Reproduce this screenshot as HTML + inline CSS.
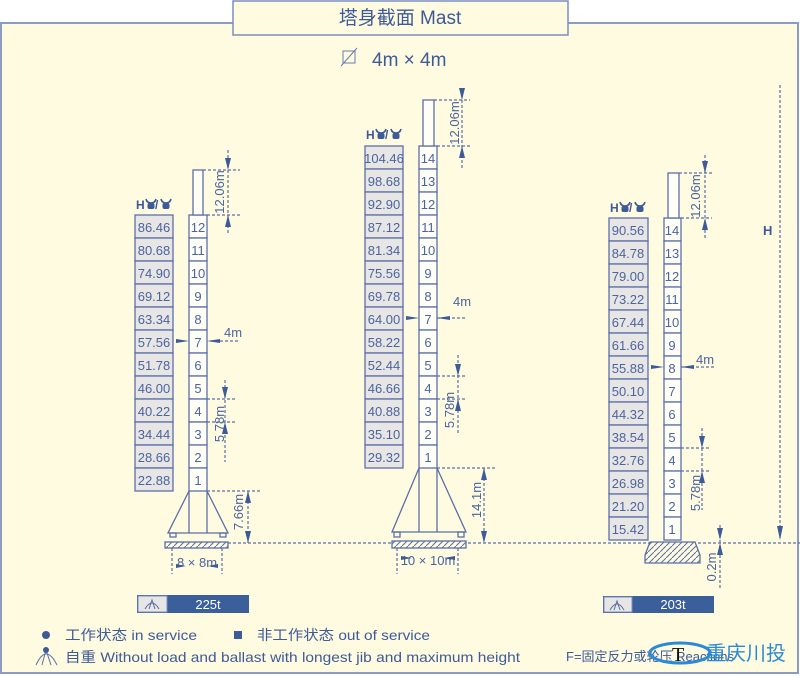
<!DOCTYPE html>
<html><head><meta charset="utf-8"><style>
html,body{margin:0;padding:0;background:#fff;}
svg{display:block;font-family:"Liberation Sans","Noto Sans CJK SC",sans-serif;}
</style></head><body>
<svg width="800" height="676" viewBox="0 0 800 676" xmlns="http://www.w3.org/2000/svg">
<defs>
<pattern id="hat" width="6" height="6" patternUnits="userSpaceOnUse"><rect width="6" height="6" fill="#fffbe0"/><path d="M0,6 L6,0" stroke="#5a6fa8" stroke-width="1"/></pattern>
<g id="bull"><path d="M-5,-5 Q-4,-1 0,-1 Q4,-1 5,-5" stroke="#3d5a99" stroke-width="1.6" fill="none"/><rect x="-3.5" y="-1" width="7" height="6" rx="2" fill="#3d5a99"/></g>
</defs>
<rect x="1" y="23" width="797" height="650" fill="#fffbe0" stroke="#8a9cc4" stroke-width="2"/>
<rect x="233" y="1" width="335" height="34" fill="#fffbe0" stroke="#7a8fc0" stroke-width="1.5"/>
<text x="400" y="24" font-size="19" fill="#3d5a99" text-anchor="middle">塔身截面 Mast</text>
<rect x="343" y="51" width="12" height="12" fill="none" stroke="#6a7cb0"/>
<path d="M341 66 L357 48" stroke="#6a7cb0"/>
<text x="372" y="66" font-size="19" fill="#3d5a99">4m × 4m</text>

<g stroke="#5a6fa8" stroke-width="1.3" font-size="13" fill="#4a64a0">
<g fill="#e8e6e4">
<rect x="135" y="215" width="38" height="23"/><rect x="135" y="238" width="38" height="23"/><rect x="135" y="261" width="38" height="23"/><rect x="135" y="284" width="38" height="23"/><rect x="135" y="307" width="38" height="23"/><rect x="135" y="330" width="38" height="23"/><rect x="135" y="353" width="38" height="23"/><rect x="135" y="376" width="38" height="23"/><rect x="135" y="399" width="38" height="23"/><rect x="135" y="422" width="38" height="23"/><rect x="135" y="445" width="38" height="23"/><rect x="135" y="468" width="38" height="23"/>
</g>
<g fill="#fffef6">
<rect x="189" y="215" width="18" height="23"/><rect x="189" y="238" width="18" height="23"/><rect x="189" y="261" width="18" height="23"/><rect x="189" y="284" width="18" height="23"/><rect x="189" y="307" width="18" height="23"/><rect x="189" y="330" width="18" height="23"/><rect x="189" y="353" width="18" height="23"/><rect x="189" y="376" width="18" height="23"/><rect x="189" y="399" width="18" height="23"/><rect x="189" y="422" width="18" height="23"/><rect x="189" y="445" width="18" height="23"/><rect x="189" y="468" width="18" height="23"/>
<rect x="193" y="170" width="10" height="45"/>
</g>
<g fill="#e8e6e4">
<rect x="365" y="146" width="38" height="23"/><rect x="365" y="169" width="38" height="23"/><rect x="365" y="192" width="38" height="23"/><rect x="365" y="215" width="38" height="23"/><rect x="365" y="238" width="38" height="23"/><rect x="365" y="261" width="38" height="23"/><rect x="365" y="284" width="38" height="23"/><rect x="365" y="307" width="38" height="23"/><rect x="365" y="330" width="38" height="23"/><rect x="365" y="353" width="38" height="23"/><rect x="365" y="376" width="38" height="23"/><rect x="365" y="399" width="38" height="23"/><rect x="365" y="422" width="38" height="23"/><rect x="365" y="445" width="38" height="23"/>
</g>
<g fill="#fffef6">
<rect x="419" y="146" width="18" height="23"/><rect x="419" y="169" width="18" height="23"/><rect x="419" y="192" width="18" height="23"/><rect x="419" y="215" width="18" height="23"/><rect x="419" y="238" width="18" height="23"/><rect x="419" y="261" width="18" height="23"/><rect x="419" y="284" width="18" height="23"/><rect x="419" y="307" width="18" height="23"/><rect x="419" y="330" width="18" height="23"/><rect x="419" y="353" width="18" height="23"/><rect x="419" y="376" width="18" height="23"/><rect x="419" y="399" width="18" height="23"/><rect x="419" y="422" width="18" height="23"/><rect x="419" y="445" width="18" height="23"/>
<rect x="423" y="100" width="11" height="46"/>
</g>
<g fill="#e8e6e4">
<rect x="609" y="218" width="39" height="23"/><rect x="609" y="241" width="39" height="23"/><rect x="609" y="264" width="39" height="23"/><rect x="609" y="287" width="39" height="23"/><rect x="609" y="310" width="39" height="23"/><rect x="609" y="333" width="39" height="23"/><rect x="609" y="356" width="39" height="23"/><rect x="609" y="379" width="39" height="23"/><rect x="609" y="402" width="39" height="23"/><rect x="609" y="425" width="39" height="23"/><rect x="609" y="448" width="39" height="23"/><rect x="609" y="471" width="39" height="23"/><rect x="609" y="494" width="39" height="23"/><rect x="609" y="517" width="39" height="23"/>
</g>
<g fill="#fffef6">
<rect x="664" y="218" width="17" height="23"/><rect x="664" y="241" width="17" height="23"/><rect x="664" y="264" width="17" height="23"/><rect x="664" y="287" width="17" height="23"/><rect x="664" y="310" width="17" height="23"/><rect x="664" y="333" width="17" height="23"/><rect x="664" y="356" width="17" height="23"/><rect x="664" y="379" width="17" height="23"/><rect x="664" y="402" width="17" height="23"/><rect x="664" y="425" width="17" height="23"/><rect x="664" y="448" width="17" height="23"/><rect x="664" y="471" width="17" height="23"/><rect x="664" y="494" width="17" height="23"/><rect x="664" y="517" width="17" height="23"/>
<rect x="668" y="173" width="11" height="45"/>
</g>
</g>

<g font-size="13" fill="#4a64a0" stroke="none">
<g text-anchor="middle">
<text x="154" y="232">86.46</text><text x="154" y="255">80.68</text><text x="154" y="278">74.90</text><text x="154" y="301">69.12</text><text x="154" y="324">63.34</text><text x="154" y="347">57.56</text><text x="154" y="370">51.78</text><text x="154" y="393">46.00</text><text x="154" y="416">40.22</text><text x="154" y="439">34.44</text><text x="154" y="462">28.66</text><text x="154" y="485">22.88</text>
<text x="198" y="232">12</text><text x="198" y="255">11</text><text x="198" y="278">10</text><text x="198" y="301">9</text><text x="198" y="324">8</text><text x="198" y="347">7</text><text x="198" y="370">6</text><text x="198" y="393">5</text><text x="198" y="416">4</text><text x="198" y="439">3</text><text x="198" y="462">2</text><text x="198" y="485">1</text>
<text x="384" y="163">104.46</text><text x="384" y="186">98.68</text><text x="384" y="209">92.90</text><text x="384" y="232">87.12</text><text x="384" y="255">81.34</text><text x="384" y="278">75.56</text><text x="384" y="301">69.78</text><text x="384" y="324">64.00</text><text x="384" y="347">58.22</text><text x="384" y="370">52.44</text><text x="384" y="393">46.66</text><text x="384" y="416">40.88</text><text x="384" y="439">35.10</text><text x="384" y="462">29.32</text>
<text x="428" y="163">14</text><text x="428" y="186">13</text><text x="428" y="209">12</text><text x="428" y="232">11</text><text x="428" y="255">10</text><text x="428" y="278">9</text><text x="428" y="301">8</text><text x="428" y="324">7</text><text x="428" y="347">6</text><text x="428" y="370">5</text><text x="428" y="393">4</text><text x="428" y="416">3</text><text x="428" y="439">2</text><text x="428" y="462">1</text>
<text x="628" y="235">90.56</text><text x="628" y="258">84.78</text><text x="628" y="281">79.00</text><text x="628" y="304">73.22</text><text x="628" y="327">67.44</text><text x="628" y="350">61.66</text><text x="628" y="373">55.88</text><text x="628" y="396">50.10</text><text x="628" y="419">44.32</text><text x="628" y="442">38.54</text><text x="628" y="465">32.76</text><text x="628" y="488">26.98</text><text x="628" y="511">21.20</text><text x="628" y="534">15.42</text>
<text x="672" y="235">14</text><text x="672" y="258">13</text><text x="672" y="281">12</text><text x="672" y="304">11</text><text x="672" y="327">10</text><text x="672" y="350">9</text><text x="672" y="373">8</text><text x="672" y="396">7</text><text x="672" y="419">6</text><text x="672" y="442">5</text><text x="672" y="465">4</text><text x="672" y="488">3</text><text x="672" y="511">2</text><text x="672" y="534">1</text>
</g>
<g font-weight="bold" font-size="12" fill="#3d5a99">
<text x="136" y="209">H</text><text x="155" y="209">/</text>
<text x="366" y="139">H</text><text x="385" y="139">/</text>
<text x="610" y="212">H</text><text x="629" y="212">/</text>
<text x="763" y="235" font-size="13">H</text>
</g>
<use href="#bull" x="151" y="204"/><use href="#bull" x="166" y="204"/>
<use href="#bull" x="381" y="134"/><use href="#bull" x="396" y="134"/>
<use href="#bull" x="625" y="207"/><use href="#bull" x="640" y="207"/>
<text transform="translate(224,192) rotate(-90)" text-anchor="middle">12.06m</text>
<text transform="translate(224,424) rotate(-90)" text-anchor="middle">5.78m</text>
<text transform="translate(243,512) rotate(-90)" text-anchor="middle">7.66m</text>
<text transform="translate(459,123) rotate(-90)" text-anchor="middle">12.06m</text>
<text transform="translate(454,410) rotate(-90)" text-anchor="middle">5.78m</text>
<text transform="translate(481,500) rotate(-90)" text-anchor="middle">14.1m</text>
<text transform="translate(700,196) rotate(-90)" text-anchor="middle">12.06m</text>
<text transform="translate(700,493) rotate(-90)" text-anchor="middle">5.78m</text>
<text transform="translate(716,567) rotate(-90)" text-anchor="middle">0.2m</text>
<text x="224" y="337">4m</text>
<text x="453" y="306">4m</text>
<text x="696" y="364">4m</text>
<text x="197" y="567" text-anchor="middle">8 × 8m</text>
<text x="428" y="565" text-anchor="middle">10 × 10m</text>
</g>

<g stroke="#5a6fa8" stroke-width="1.2" stroke-dasharray="3,2" fill="none">
<path d="M228 150V235 M203 170H240 M207 215H240"/>
<path d="M210 341H240"/>
<path d="M225 380V462 M207 399H235 M207 422H235"/>
<path d="M207 491H262 M248 491V543 M228 543H800"/>
<path d="M172 548V574 M222 548V574"/>
<path d="M462 90V170 M434 100H470 M437 146H470"/>
<path d="M437 318H465"/>
<path d="M458 355V435 M437 376H465 M437 399H465"/>
<path d="M437 468H495 M484 468V543"/>
<path d="M397 548V574 M458 548V574"/>
<path d="M705 155V240 M679 173H712 M681 218H712"/>
<path d="M681 367H715"/>
<path d="M702 428V510 M681 448H710 M681 471H710"/>
<path d="M720 525V588"/>
<path d="M780 85V540"/>
</g>
<g fill="#3d5a99">
<polygon points="225,158 231,158 228,170"/><polygon points="225,227 231,227 228,215"/>
<polygon points="176,339 176,343 189,341"/><polygon points="220,339 220,343 207,341"/>
<polygon points="222,387 228,387 225,399"/><polygon points="222,434 228,434 225,422"/>
<polygon points="245,503 251,503 248,491"/><polygon points="245,531 251,531 248,543"/>
<polygon points="176,564 176,568 186,566"/><polygon points="218,564 218,568 208,566"/>
<polygon points="459,88 465,88 462,100"/><polygon points="459,158 465,158 462,146"/>
<polygon points="406,316 406,320 419,318"/><polygon points="450,316 450,320 437,318"/>
<polygon points="455,364 461,364 458,376"/><polygon points="455,411 461,411 458,399"/>
<polygon points="481,480 487,480 484,468"/><polygon points="481,531 487,531 484,543"/>
<polygon points="401,556 401,560 412,558"/><polygon points="455,556 455,560 444,558"/>
<polygon points="702,161 708,161 705,173"/><polygon points="702,230 708,230 705,218"/>
<polygon points="651,365 651,369 664,367"/><polygon points="694,365 694,369 681,367"/>
<polygon points="699,436 705,436 702,448"/><polygon points="699,483 705,483 702,471"/>
<polygon points="717,528 723,528 720,540"/><polygon points="717,555 723,555 720,543"/>
<polygon points="777,526 783,526 780,540"/>
</g>
<g stroke="#5a6fa8" stroke-width="1.3" fill="none">
<path d="M189 491 L168 533 H228 L207 491 M189 491V533 M207 491V533"/>
<rect x="170" y="533" width="6" height="4"/><rect x="220" y="533" width="6" height="4"/>
<rect x="165" y="542" width="63" height="6" fill="url(#hat)"/>
<path d="M419 468 L392 532 H466 L437 468 M419 468V532 M437 468V532"/>
<rect x="394" y="532" width="6" height="5"/><rect x="458" y="532" width="6" height="5"/>
<rect x="392" y="541" width="74" height="7" fill="url(#hat)"/>
<path d="M650 542 H695 L700 555 V563 H645 V555 Z" fill="url(#hat)"/>
</g>
<rect x="137" y="595" width="112" height="18" fill="#3a5f9a"/>
<rect x="138" y="596" width="29" height="16" fill="#e8e6e4" stroke="#7a8fc0"/>
<path d="M145 609 Q152 597 159 609 M149 609 L152 600 L155 609" stroke="#5a6fa8" fill="none"/>
<text x="208" y="609" font-size="13" fill="#fff" text-anchor="middle">225t</text>
<rect x="603" y="596" width="111" height="17" fill="#3a5f9a"/>
<rect x="604" y="597" width="28" height="15" fill="#e8e6e4" stroke="#7a8fc0"/>
<path d="M610 610 Q617 598 624 610 M614 610 L617 601 L620 610" stroke="#5a6fa8" fill="none"/>
<text x="673" y="609" font-size="13" fill="#fff" text-anchor="middle">203t</text>
<g font-size="14" fill="#3d5a99">
<circle cx="46" cy="635" r="4"/>
<text x="65" y="640" textLength="132" lengthAdjust="spacingAndGlyphs">工作状态  in service</text>
<rect x="234" y="631" width="8" height="8"/>
<text x="257" y="640" textLength="173" lengthAdjust="spacingAndGlyphs">非工作状态  out of service</text>
<path d="M36 665 Q46 643 57 665 M42 665 L46 650 L51 665" stroke="#5a6fa8" fill="none"/>
<circle cx="46" cy="650" r="3"/>
<text x="65" y="662" textLength="455" lengthAdjust="spacingAndGlyphs">自重  Without load and ballast with longest jib and maximum height</text>
<text x="566" y="661" font-size="13">F=固定反力或轮压   Reactions</text>
</g>
<ellipse cx="680" cy="653" rx="30" ry="10" fill="none" stroke="#2a8ad8" stroke-width="3"/>
<text x="672" y="661" font-size="20" font-family="Liberation Serif,serif" fill="#111">T</text>
<text x="706" y="660" font-size="20" fill="#2a8ad8">重庆川投</text>
</svg>
</body></html>
